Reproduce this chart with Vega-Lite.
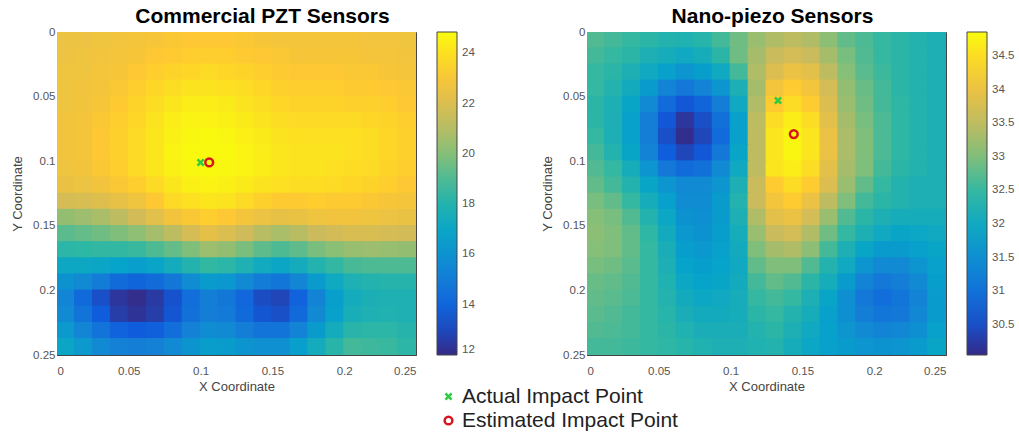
{
"$schema":"https://vega.github.io/schema/vega-lite/v6.json",
"autosize":{"type":"pad"},
"padding":{"left":11,"top":5,"right":0,"bottom":0},
"background":"white",
"config":{
"font":"Liberation Sans",
"view":{"stroke":"#444","strokeWidth":1},
"axis":{"labelFont":"Liberation Sans","labelFontSize":11.5,"labelColor":"#555","titleFont":"Liberation Sans","titleFontSize":13,"titleFontWeight":"normal","titleColor":"#444","domain":false,"tickColor":"#444","tickSize":-4,"grid":false},
"axisX":{"labelPadding":14},
"axisY":{"labelPadding":6},
"title":{"font":"Liberation Sans","fontSize":21,"fontWeight":"bold","color":"#000","offset":0}
},
"datasets":{
"pzt":[
{"x":0.006,"y":0.006,"v":22.6},{"x":0.019,"y":0.006,"v":22.6},{"x":0.031,"y":0.006,"v":22.7},{"x":0.044,"y":0.006,"v":22.8},{"x":0.056,"y":0.006,"v":22.9},{"x":0.069,"y":0.006,"v":23.0},{"x":0.081,"y":0.006,"v":23.1},{"x":0.094,"y":0.006,"v":23.2},{"x":0.106,"y":0.006,"v":23.2},{"x":0.119,"y":0.006,"v":23.2},{"x":0.131,"y":0.006,"v":23.1},{"x":0.144,"y":0.006,"v":23.0},{"x":0.156,"y":0.006,"v":22.9},{"x":0.169,"y":0.006,"v":22.9},{"x":0.181,"y":0.006,"v":22.9},{"x":0.194,"y":0.006,"v":22.9},{"x":0.206,"y":0.006,"v":22.9},{"x":0.219,"y":0.006,"v":22.8},{"x":0.231,"y":0.006,"v":22.8},{"x":0.244,"y":0.006,"v":22.7},
{"x":0.006,"y":0.019,"v":22.6},{"x":0.019,"y":0.019,"v":22.7},{"x":0.031,"y":0.019,"v":22.8},{"x":0.044,"y":0.019,"v":22.9},{"x":0.056,"y":0.019,"v":23.0},{"x":0.069,"y":0.019,"v":23.2},{"x":0.081,"y":0.019,"v":23.3},{"x":0.094,"y":0.019,"v":23.4},{"x":0.106,"y":0.019,"v":23.4},{"x":0.119,"y":0.019,"v":23.4},{"x":0.131,"y":0.019,"v":23.3},{"x":0.144,"y":0.019,"v":23.2},{"x":0.156,"y":0.019,"v":23.1},{"x":0.169,"y":0.019,"v":23.0},{"x":0.181,"y":0.019,"v":23.0},{"x":0.194,"y":0.019,"v":23.0},{"x":0.206,"y":0.019,"v":23.0},{"x":0.219,"y":0.019,"v":22.9},{"x":0.231,"y":0.019,"v":22.9},{"x":0.244,"y":0.019,"v":22.8},
{"x":0.006,"y":0.031,"v":22.7},{"x":0.019,"y":0.031,"v":22.7},{"x":0.031,"y":0.031,"v":22.9},{"x":0.044,"y":0.031,"v":23.0},{"x":0.056,"y":0.031,"v":23.2},{"x":0.069,"y":0.031,"v":23.4},{"x":0.081,"y":0.031,"v":23.6},{"x":0.094,"y":0.031,"v":23.7},{"x":0.106,"y":0.031,"v":23.8},{"x":0.119,"y":0.031,"v":23.7},{"x":0.131,"y":0.031,"v":23.6},{"x":0.144,"y":0.031,"v":23.4},{"x":0.156,"y":0.031,"v":23.3},{"x":0.169,"y":0.031,"v":23.2},{"x":0.181,"y":0.031,"v":23.2},{"x":0.194,"y":0.031,"v":23.2},{"x":0.206,"y":0.031,"v":23.1},{"x":0.219,"y":0.031,"v":23.1},{"x":0.231,"y":0.031,"v":23.0},{"x":0.244,"y":0.031,"v":22.9},
{"x":0.006,"y":0.044,"v":22.7},{"x":0.019,"y":0.044,"v":22.8},{"x":0.031,"y":0.044,"v":22.9},{"x":0.044,"y":0.044,"v":23.1},{"x":0.056,"y":0.044,"v":23.4},{"x":0.069,"y":0.044,"v":23.7},{"x":0.081,"y":0.044,"v":23.9},{"x":0.094,"y":0.044,"v":24.1},{"x":0.106,"y":0.044,"v":24.1},{"x":0.119,"y":0.044,"v":24.0},{"x":0.131,"y":0.044,"v":23.9},{"x":0.144,"y":0.044,"v":23.7},{"x":0.156,"y":0.044,"v":23.5},{"x":0.169,"y":0.044,"v":23.4},{"x":0.181,"y":0.044,"v":23.4},{"x":0.194,"y":0.044,"v":23.4},{"x":0.206,"y":0.044,"v":23.3},{"x":0.219,"y":0.044,"v":23.3},{"x":0.231,"y":0.044,"v":23.2},{"x":0.244,"y":0.044,"v":23.1},
{"x":0.006,"y":0.056,"v":22.7},{"x":0.019,"y":0.056,"v":22.8},{"x":0.031,"y":0.056,"v":23.0},{"x":0.044,"y":0.056,"v":23.3},{"x":0.056,"y":0.056,"v":23.6},{"x":0.069,"y":0.056,"v":23.9},{"x":0.081,"y":0.056,"v":24.2},{"x":0.094,"y":0.056,"v":24.4},{"x":0.106,"y":0.056,"v":24.4},{"x":0.119,"y":0.056,"v":24.3},{"x":0.131,"y":0.056,"v":24.1},{"x":0.144,"y":0.056,"v":23.9},{"x":0.156,"y":0.056,"v":23.7},{"x":0.169,"y":0.056,"v":23.6},{"x":0.181,"y":0.056,"v":23.6},{"x":0.194,"y":0.056,"v":23.6},{"x":0.206,"y":0.056,"v":23.5},{"x":0.219,"y":0.056,"v":23.5},{"x":0.231,"y":0.056,"v":23.4},{"x":0.244,"y":0.056,"v":23.2},
{"x":0.006,"y":0.069,"v":22.8},{"x":0.019,"y":0.069,"v":22.9},{"x":0.031,"y":0.069,"v":23.1},{"x":0.044,"y":0.069,"v":23.4},{"x":0.056,"y":0.069,"v":23.7},{"x":0.069,"y":0.069,"v":24.1},{"x":0.081,"y":0.069,"v":24.4},{"x":0.094,"y":0.069,"v":24.6},{"x":0.106,"y":0.069,"v":24.6},{"x":0.119,"y":0.069,"v":24.5},{"x":0.131,"y":0.069,"v":24.3},{"x":0.144,"y":0.069,"v":24.1},{"x":0.156,"y":0.069,"v":23.9},{"x":0.169,"y":0.069,"v":23.8},{"x":0.181,"y":0.069,"v":23.8},{"x":0.194,"y":0.069,"v":23.8},{"x":0.206,"y":0.069,"v":23.8},{"x":0.219,"y":0.069,"v":23.7},{"x":0.231,"y":0.069,"v":23.6},{"x":0.244,"y":0.069,"v":23.4},
{"x":0.006,"y":0.081,"v":22.8},{"x":0.019,"y":0.081,"v":22.9},{"x":0.031,"y":0.081,"v":23.2},{"x":0.044,"y":0.081,"v":23.5},{"x":0.056,"y":0.081,"v":23.8},{"x":0.069,"y":0.081,"v":24.2},{"x":0.081,"y":0.081,"v":24.5},{"x":0.094,"y":0.081,"v":24.7},{"x":0.106,"y":0.081,"v":24.8},{"x":0.119,"y":0.081,"v":24.7},{"x":0.131,"y":0.081,"v":24.5},{"x":0.144,"y":0.081,"v":24.3},{"x":0.156,"y":0.081,"v":24.1},{"x":0.169,"y":0.081,"v":24.0},{"x":0.181,"y":0.081,"v":24.0},{"x":0.194,"y":0.081,"v":24.0},{"x":0.206,"y":0.081,"v":24.0},{"x":0.219,"y":0.081,"v":23.9},{"x":0.231,"y":0.081,"v":23.7},{"x":0.244,"y":0.081,"v":23.5},
{"x":0.006,"y":0.094,"v":22.8},{"x":0.019,"y":0.094,"v":22.9},{"x":0.031,"y":0.094,"v":23.2},{"x":0.044,"y":0.094,"v":23.5},{"x":0.056,"y":0.094,"v":23.8},{"x":0.069,"y":0.094,"v":24.2},{"x":0.081,"y":0.094,"v":24.6},{"x":0.094,"y":0.094,"v":24.8},{"x":0.106,"y":0.094,"v":24.8},{"x":0.119,"y":0.094,"v":24.8},{"x":0.131,"y":0.094,"v":24.6},{"x":0.144,"y":0.094,"v":24.4},{"x":0.156,"y":0.094,"v":24.2},{"x":0.169,"y":0.094,"v":24.1},{"x":0.181,"y":0.094,"v":24.1},{"x":0.194,"y":0.094,"v":24.1},{"x":0.206,"y":0.094,"v":24.0},{"x":0.219,"y":0.094,"v":23.9},{"x":0.231,"y":0.094,"v":23.7},{"x":0.244,"y":0.094,"v":23.5},
{"x":0.006,"y":0.106,"v":22.7},{"x":0.019,"y":0.106,"v":22.8},{"x":0.031,"y":0.106,"v":23.1},{"x":0.044,"y":0.106,"v":23.4},{"x":0.056,"y":0.106,"v":23.8},{"x":0.069,"y":0.106,"v":24.2},{"x":0.081,"y":0.106,"v":24.5},{"x":0.094,"y":0.106,"v":24.7},{"x":0.106,"y":0.106,"v":24.8},{"x":0.119,"y":0.106,"v":24.7},{"x":0.131,"y":0.106,"v":24.6},{"x":0.144,"y":0.106,"v":24.4},{"x":0.156,"y":0.106,"v":24.2},{"x":0.169,"y":0.106,"v":24.1},{"x":0.181,"y":0.106,"v":24.1},{"x":0.194,"y":0.106,"v":24.0},{"x":0.206,"y":0.106,"v":23.9},{"x":0.219,"y":0.106,"v":23.8},{"x":0.231,"y":0.106,"v":23.6},{"x":0.244,"y":0.106,"v":23.4},
{"x":0.006,"y":0.119,"v":22.5},{"x":0.019,"y":0.119,"v":22.6},{"x":0.031,"y":0.119,"v":22.8},{"x":0.044,"y":0.119,"v":23.1},{"x":0.056,"y":0.119,"v":23.4},{"x":0.069,"y":0.119,"v":23.8},{"x":0.081,"y":0.119,"v":24.2},{"x":0.094,"y":0.119,"v":24.5},{"x":0.106,"y":0.119,"v":24.6},{"x":0.119,"y":0.119,"v":24.5},{"x":0.131,"y":0.119,"v":24.3},{"x":0.144,"y":0.119,"v":24.1},{"x":0.156,"y":0.119,"v":24.0},{"x":0.169,"y":0.119,"v":23.9},{"x":0.181,"y":0.119,"v":23.9},{"x":0.194,"y":0.119,"v":23.8},{"x":0.206,"y":0.119,"v":23.7},{"x":0.219,"y":0.119,"v":23.6},{"x":0.231,"y":0.119,"v":23.4},{"x":0.244,"y":0.119,"v":23.2},
{"x":0.006,"y":0.131,"v":21.8},{"x":0.019,"y":0.131,"v":21.9},{"x":0.031,"y":0.131,"v":22.1},{"x":0.044,"y":0.131,"v":22.4},{"x":0.056,"y":0.131,"v":22.7},{"x":0.069,"y":0.131,"v":23.2},{"x":0.081,"y":0.131,"v":23.8},{"x":0.094,"y":0.131,"v":24.0},{"x":0.106,"y":0.131,"v":24.2},{"x":0.119,"y":0.131,"v":24.1},{"x":0.131,"y":0.131,"v":23.8},{"x":0.144,"y":0.131,"v":23.5},{"x":0.156,"y":0.131,"v":23.3},{"x":0.169,"y":0.131,"v":23.3},{"x":0.181,"y":0.131,"v":23.4},{"x":0.194,"y":0.131,"v":23.3},{"x":0.206,"y":0.131,"v":23.3},{"x":0.219,"y":0.131,"v":23.1},{"x":0.231,"y":0.131,"v":23.0},{"x":0.244,"y":0.131,"v":22.9},
{"x":0.006,"y":0.144,"v":20.3},{"x":0.019,"y":0.144,"v":20.5},{"x":0.031,"y":0.144,"v":20.8},{"x":0.044,"y":0.144,"v":21.2},{"x":0.056,"y":0.144,"v":21.7},{"x":0.069,"y":0.144,"v":22.2},{"x":0.081,"y":0.144,"v":22.8},{"x":0.094,"y":0.144,"v":23.1},{"x":0.106,"y":0.144,"v":23.4},{"x":0.119,"y":0.144,"v":23.2},{"x":0.131,"y":0.144,"v":22.9},{"x":0.144,"y":0.144,"v":22.6},{"x":0.156,"y":0.144,"v":22.4},{"x":0.169,"y":0.144,"v":22.5},{"x":0.181,"y":0.144,"v":22.7},{"x":0.194,"y":0.144,"v":22.8},{"x":0.206,"y":0.144,"v":22.8},{"x":0.219,"y":0.144,"v":22.7},{"x":0.231,"y":0.144,"v":22.6},{"x":0.244,"y":0.144,"v":22.5},
{"x":0.006,"y":0.156,"v":19.2},{"x":0.019,"y":0.156,"v":19.4},{"x":0.031,"y":0.156,"v":19.6},{"x":0.044,"y":0.156,"v":19.9},{"x":0.056,"y":0.156,"v":20.2},{"x":0.069,"y":0.156,"v":20.7},{"x":0.081,"y":0.156,"v":21.2},{"x":0.094,"y":0.156,"v":21.8},{"x":0.106,"y":0.156,"v":22.3},{"x":0.119,"y":0.156,"v":22.0},{"x":0.131,"y":0.156,"v":21.6},{"x":0.144,"y":0.156,"v":21.1},{"x":0.156,"y":0.156,"v":20.8},{"x":0.169,"y":0.156,"v":21.1},{"x":0.181,"y":0.156,"v":21.5},{"x":0.194,"y":0.156,"v":21.7},{"x":0.206,"y":0.156,"v":21.9},{"x":0.219,"y":0.156,"v":21.9},{"x":0.231,"y":0.156,"v":21.8},{"x":0.244,"y":0.156,"v":21.7},
{"x":0.006,"y":0.169,"v":18.3},{"x":0.019,"y":0.169,"v":18.4},{"x":0.031,"y":0.169,"v":18.5},{"x":0.044,"y":0.169,"v":18.5},{"x":0.056,"y":0.169,"v":18.6},{"x":0.069,"y":0.169,"v":19.0},{"x":0.081,"y":0.169,"v":19.4},{"x":0.094,"y":0.169,"v":19.9},{"x":0.106,"y":0.169,"v":20.5},{"x":0.119,"y":0.169,"v":20.3},{"x":0.131,"y":0.169,"v":19.8},{"x":0.144,"y":0.169,"v":19.3},{"x":0.156,"y":0.169,"v":19.0},{"x":0.169,"y":0.169,"v":19.3},{"x":0.181,"y":0.169,"v":19.8},{"x":0.194,"y":0.169,"v":20.1},{"x":0.206,"y":0.169,"v":20.4},{"x":0.219,"y":0.169,"v":20.5},{"x":0.231,"y":0.169,"v":20.4},{"x":0.244,"y":0.169,"v":20.3},
{"x":0.006,"y":0.181,"v":17.1},{"x":0.019,"y":0.181,"v":17.1},{"x":0.031,"y":0.181,"v":17.0},{"x":0.044,"y":0.181,"v":16.8},{"x":0.056,"y":0.181,"v":16.6},{"x":0.069,"y":0.181,"v":16.9},{"x":0.081,"y":0.181,"v":17.4},{"x":0.094,"y":0.181,"v":18.0},{"x":0.106,"y":0.181,"v":18.5},{"x":0.119,"y":0.181,"v":18.3},{"x":0.131,"y":0.181,"v":17.8},{"x":0.144,"y":0.181,"v":17.3},{"x":0.156,"y":0.181,"v":17.0},{"x":0.169,"y":0.181,"v":17.4},{"x":0.181,"y":0.181,"v":18.0},{"x":0.194,"y":0.181,"v":18.5},{"x":0.206,"y":0.181,"v":18.9},{"x":0.219,"y":0.181,"v":19.0},{"x":0.231,"y":0.181,"v":19.0},{"x":0.244,"y":0.181,"v":19.0},
{"x":0.006,"y":0.194,"v":16.0},{"x":0.019,"y":0.194,"v":15.6},{"x":0.031,"y":0.194,"v":15.0},{"x":0.044,"y":0.194,"v":14.3},{"x":0.056,"y":0.194,"v":14.0},{"x":0.069,"y":0.194,"v":14.3},{"x":0.081,"y":0.194,"v":14.8},{"x":0.094,"y":0.194,"v":15.7},{"x":0.106,"y":0.194,"v":16.4},{"x":0.119,"y":0.194,"v":16.2},{"x":0.131,"y":0.194,"v":15.6},{"x":0.144,"y":0.194,"v":15.0},{"x":0.156,"y":0.194,"v":14.7},{"x":0.169,"y":0.194,"v":15.4},{"x":0.181,"y":0.194,"v":16.4},{"x":0.194,"y":0.194,"v":17.2},{"x":0.206,"y":0.194,"v":17.8},{"x":0.219,"y":0.194,"v":18.0},{"x":0.231,"y":0.194,"v":18.1},{"x":0.244,"y":0.194,"v":18.1},
{"x":0.006,"y":0.206,"v":15.4},{"x":0.019,"y":0.206,"v":14.2},{"x":0.031,"y":0.206,"v":13.2},{"x":0.044,"y":0.206,"v":12.4},{"x":0.056,"y":0.206,"v":12.1},{"x":0.069,"y":0.206,"v":12.5},{"x":0.081,"y":0.206,"v":13.3},{"x":0.094,"y":0.206,"v":14.4},{"x":0.106,"y":0.206,"v":15.1},{"x":0.119,"y":0.206,"v":14.8},{"x":0.131,"y":0.206,"v":14.1},{"x":0.144,"y":0.206,"v":13.1},{"x":0.156,"y":0.206,"v":12.9},{"x":0.169,"y":0.206,"v":13.9},{"x":0.181,"y":0.206,"v":15.3},{"x":0.194,"y":0.206,"v":16.6},{"x":0.206,"y":0.206,"v":17.4},{"x":0.219,"y":0.206,"v":17.7},{"x":0.231,"y":0.206,"v":17.8},{"x":0.244,"y":0.206,"v":17.8},
{"x":0.006,"y":0.219,"v":15.6},{"x":0.019,"y":0.219,"v":14.6},{"x":0.031,"y":0.219,"v":13.6},{"x":0.044,"y":0.219,"v":12.6},{"x":0.056,"y":0.219,"v":12.3},{"x":0.069,"y":0.219,"v":12.6},{"x":0.081,"y":0.219,"v":13.4},{"x":0.094,"y":0.219,"v":14.5},{"x":0.106,"y":0.219,"v":15.1},{"x":0.119,"y":0.219,"v":14.9},{"x":0.131,"y":0.219,"v":14.2},{"x":0.144,"y":0.219,"v":13.4},{"x":0.156,"y":0.219,"v":13.2},{"x":0.169,"y":0.219,"v":14.2},{"x":0.181,"y":0.219,"v":15.6},{"x":0.194,"y":0.219,"v":16.7},{"x":0.206,"y":0.219,"v":17.6},{"x":0.219,"y":0.219,"v":17.8},{"x":0.231,"y":0.219,"v":17.9},{"x":0.244,"y":0.219,"v":17.8},
{"x":0.006,"y":0.231,"v":16.3},{"x":0.019,"y":0.231,"v":15.4},{"x":0.031,"y":0.231,"v":14.6},{"x":0.044,"y":0.231,"v":13.9},{"x":0.056,"y":0.231,"v":13.6},{"x":0.069,"y":0.231,"v":13.8},{"x":0.081,"y":0.231,"v":14.4},{"x":0.094,"y":0.231,"v":15.2},{"x":0.106,"y":0.231,"v":15.7},{"x":0.119,"y":0.231,"v":15.6},{"x":0.131,"y":0.231,"v":15.1},{"x":0.144,"y":0.231,"v":14.6},{"x":0.156,"y":0.231,"v":14.6},{"x":0.169,"y":0.231,"v":15.3},{"x":0.181,"y":0.231,"v":16.4},{"x":0.194,"y":0.231,"v":17.4},{"x":0.206,"y":0.231,"v":18.2},{"x":0.219,"y":0.231,"v":18.3},{"x":0.231,"y":0.231,"v":18.3},{"x":0.244,"y":0.231,"v":18.1},
{"x":0.006,"y":0.244,"v":17.0},{"x":0.019,"y":0.244,"v":16.3},{"x":0.031,"y":0.244,"v":15.6},{"x":0.044,"y":0.244,"v":15.2},{"x":0.056,"y":0.244,"v":15.1},{"x":0.069,"y":0.244,"v":15.2},{"x":0.081,"y":0.244,"v":15.6},{"x":0.094,"y":0.244,"v":16.1},{"x":0.106,"y":0.244,"v":16.5},{"x":0.119,"y":0.244,"v":16.4},{"x":0.131,"y":0.244,"v":16.1},{"x":0.144,"y":0.244,"v":15.9},{"x":0.156,"y":0.244,"v":15.9},{"x":0.169,"y":0.244,"v":16.6},{"x":0.181,"y":0.244,"v":17.4},{"x":0.194,"y":0.244,"v":18.2},{"x":0.206,"y":0.244,"v":18.8},{"x":0.219,"y":0.244,"v":18.7},{"x":0.231,"y":0.244,"v":18.6},{"x":0.244,"y":0.244,"v":18.3}
],
"nano":[
{"x":0.006,"y":0.006,"v":32.7},{"x":0.019,"y":0.006,"v":32.6},{"x":0.031,"y":0.006,"v":32.5},{"x":0.044,"y":0.006,"v":32.4},{"x":0.056,"y":0.006,"v":32.3},{"x":0.069,"y":0.006,"v":32.25},{"x":0.081,"y":0.006,"v":32.35},{"x":0.094,"y":0.006,"v":32.6},{"x":0.106,"y":0.006,"v":32.9},{"x":0.119,"y":0.006,"v":33.2},{"x":0.131,"y":0.006,"v":33.4},{"x":0.144,"y":0.006,"v":33.5},{"x":0.156,"y":0.006,"v":33.4},{"x":0.169,"y":0.006,"v":33.1},{"x":0.181,"y":0.006,"v":32.8},{"x":0.194,"y":0.006,"v":32.65},{"x":0.206,"y":0.006,"v":32.5},{"x":0.219,"y":0.006,"v":32.4},{"x":0.231,"y":0.006,"v":32.3},{"x":0.244,"y":0.006,"v":32.2},
{"x":0.006,"y":0.019,"v":32.6},{"x":0.019,"y":0.019,"v":32.5},{"x":0.031,"y":0.019,"v":32.4},{"x":0.044,"y":0.019,"v":32.2},{"x":0.056,"y":0.019,"v":32.1},{"x":0.069,"y":0.019,"v":32.0},{"x":0.081,"y":0.019,"v":32.1},{"x":0.094,"y":0.019,"v":32.4},{"x":0.106,"y":0.019,"v":32.9},{"x":0.119,"y":0.019,"v":33.3},{"x":0.131,"y":0.019,"v":33.6},{"x":0.144,"y":0.019,"v":33.7},{"x":0.156,"y":0.019,"v":33.6},{"x":0.169,"y":0.019,"v":33.3},{"x":0.181,"y":0.019,"v":32.95},{"x":0.194,"y":0.019,"v":32.7},{"x":0.206,"y":0.019,"v":32.5},{"x":0.219,"y":0.019,"v":32.4},{"x":0.231,"y":0.019,"v":32.3},{"x":0.244,"y":0.019,"v":32.2},
{"x":0.006,"y":0.031,"v":32.5},{"x":0.019,"y":0.031,"v":32.4},{"x":0.031,"y":0.031,"v":32.2},{"x":0.044,"y":0.031,"v":32.0},{"x":0.056,"y":0.031,"v":31.8},{"x":0.069,"y":0.031,"v":31.6},{"x":0.081,"y":0.031,"v":31.75},{"x":0.094,"y":0.031,"v":32.0},{"x":0.106,"y":0.031,"v":32.6},{"x":0.119,"y":0.031,"v":33.4},{"x":0.131,"y":0.031,"v":33.8},{"x":0.144,"y":0.031,"v":34.0},{"x":0.156,"y":0.031,"v":33.9},{"x":0.169,"y":0.031,"v":33.5},{"x":0.181,"y":0.031,"v":33.05},{"x":0.194,"y":0.031,"v":32.75},{"x":0.206,"y":0.031,"v":32.55},{"x":0.219,"y":0.031,"v":32.4},{"x":0.231,"y":0.031,"v":32.3},{"x":0.244,"y":0.031,"v":32.2},
{"x":0.006,"y":0.044,"v":32.5},{"x":0.019,"y":0.044,"v":32.3},{"x":0.031,"y":0.044,"v":32.05},{"x":0.044,"y":0.044,"v":31.7},{"x":0.056,"y":0.044,"v":31.3},{"x":0.069,"y":0.044,"v":31.1},{"x":0.081,"y":0.044,"v":31.3},{"x":0.094,"y":0.044,"v":31.6},{"x":0.106,"y":0.044,"v":32.2},{"x":0.119,"y":0.044,"v":33.3},{"x":0.131,"y":0.044,"v":34.1},{"x":0.144,"y":0.044,"v":34.3},{"x":0.156,"y":0.044,"v":34.1},{"x":0.169,"y":0.044,"v":33.7},{"x":0.181,"y":0.044,"v":33.15},{"x":0.194,"y":0.044,"v":32.85},{"x":0.206,"y":0.044,"v":32.6},{"x":0.219,"y":0.044,"v":32.4},{"x":0.231,"y":0.044,"v":32.3},{"x":0.244,"y":0.044,"v":32.2},
{"x":0.006,"y":0.056,"v":32.4},{"x":0.019,"y":0.056,"v":32.2},{"x":0.031,"y":0.056,"v":31.9},{"x":0.044,"y":0.056,"v":31.4},{"x":0.056,"y":0.056,"v":30.9},{"x":0.069,"y":0.056,"v":30.6},{"x":0.081,"y":0.056,"v":30.8},{"x":0.094,"y":0.056,"v":31.2},{"x":0.106,"y":0.056,"v":32.0},{"x":0.119,"y":0.056,"v":33.4},{"x":0.131,"y":0.056,"v":34.3},{"x":0.144,"y":0.056,"v":34.5},{"x":0.156,"y":0.056,"v":34.3},{"x":0.169,"y":0.056,"v":33.8},{"x":0.181,"y":0.056,"v":33.2},{"x":0.194,"y":0.056,"v":32.9},{"x":0.206,"y":0.056,"v":32.6},{"x":0.219,"y":0.056,"v":32.45},{"x":0.231,"y":0.056,"v":32.3},{"x":0.244,"y":0.056,"v":32.2},
{"x":0.006,"y":0.069,"v":32.4},{"x":0.019,"y":0.069,"v":32.2},{"x":0.031,"y":0.069,"v":31.8},{"x":0.044,"y":0.069,"v":31.2},{"x":0.056,"y":0.069,"v":30.6},{"x":0.069,"y":0.069,"v":30.2},{"x":0.081,"y":0.069,"v":30.5},{"x":0.094,"y":0.069,"v":31.0},{"x":0.106,"y":0.069,"v":31.8},{"x":0.119,"y":0.069,"v":33.5},{"x":0.131,"y":0.069,"v":34.5},{"x":0.144,"y":0.069,"v":34.7},{"x":0.156,"y":0.069,"v":34.5},{"x":0.169,"y":0.069,"v":33.9},{"x":0.181,"y":0.069,"v":33.3},{"x":0.194,"y":0.069,"v":32.95},{"x":0.206,"y":0.069,"v":32.65},{"x":0.219,"y":0.069,"v":32.45},{"x":0.231,"y":0.069,"v":32.3},{"x":0.244,"y":0.069,"v":32.2},
{"x":0.006,"y":0.081,"v":32.5},{"x":0.019,"y":0.081,"v":32.2},{"x":0.031,"y":0.081,"v":31.8},{"x":0.044,"y":0.081,"v":31.2},{"x":0.056,"y":0.081,"v":30.5},{"x":0.069,"y":0.081,"v":30.1},{"x":0.081,"y":0.081,"v":30.4},{"x":0.094,"y":0.081,"v":30.9},{"x":0.106,"y":0.081,"v":31.8},{"x":0.119,"y":0.081,"v":33.5},{"x":0.131,"y":0.081,"v":34.6},{"x":0.144,"y":0.081,"v":34.8},{"x":0.156,"y":0.081,"v":34.6},{"x":0.169,"y":0.081,"v":34.0},{"x":0.181,"y":0.081,"v":33.35},{"x":0.194,"y":0.081,"v":33.0},{"x":0.206,"y":0.081,"v":32.65},{"x":0.219,"y":0.081,"v":32.45},{"x":0.231,"y":0.081,"v":32.3},{"x":0.244,"y":0.081,"v":32.2},
{"x":0.006,"y":0.094,"v":32.6},{"x":0.019,"y":0.094,"v":32.3},{"x":0.031,"y":0.094,"v":31.9},{"x":0.044,"y":0.094,"v":31.3},{"x":0.056,"y":0.094,"v":30.7},{"x":0.069,"y":0.094,"v":30.4},{"x":0.081,"y":0.094,"v":30.6},{"x":0.094,"y":0.094,"v":31.1},{"x":0.106,"y":0.094,"v":31.9},{"x":0.119,"y":0.094,"v":33.5},{"x":0.131,"y":0.094,"v":34.6},{"x":0.144,"y":0.094,"v":34.8},{"x":0.156,"y":0.094,"v":34.6},{"x":0.169,"y":0.094,"v":34.0},{"x":0.181,"y":0.094,"v":33.35},{"x":0.194,"y":0.094,"v":33.0},{"x":0.206,"y":0.094,"v":32.65},{"x":0.219,"y":0.094,"v":32.45},{"x":0.231,"y":0.094,"v":32.3},{"x":0.244,"y":0.094,"v":32.2},
{"x":0.006,"y":0.106,"v":32.7},{"x":0.019,"y":0.106,"v":32.5},{"x":0.031,"y":0.106,"v":32.1},{"x":0.044,"y":0.106,"v":31.6},{"x":0.056,"y":0.106,"v":31.1},{"x":0.069,"y":0.106,"v":30.9},{"x":0.081,"y":0.106,"v":31.0},{"x":0.094,"y":0.106,"v":31.4},{"x":0.106,"y":0.106,"v":32.0},{"x":0.119,"y":0.106,"v":33.5},{"x":0.131,"y":0.106,"v":34.6},{"x":0.144,"y":0.106,"v":34.7},{"x":0.156,"y":0.106,"v":34.5},{"x":0.169,"y":0.106,"v":33.9},{"x":0.181,"y":0.106,"v":33.3},{"x":0.194,"y":0.106,"v":33.0},{"x":0.206,"y":0.106,"v":32.6},{"x":0.219,"y":0.106,"v":32.4},{"x":0.231,"y":0.106,"v":32.3},{"x":0.244,"y":0.106,"v":32.2},
{"x":0.006,"y":0.119,"v":32.8},{"x":0.019,"y":0.119,"v":32.6},{"x":0.031,"y":0.119,"v":32.3},{"x":0.044,"y":0.119,"v":31.9},{"x":0.056,"y":0.119,"v":31.6},{"x":0.069,"y":0.119,"v":31.4},{"x":0.081,"y":0.119,"v":31.4},{"x":0.094,"y":0.119,"v":31.6},{"x":0.106,"y":0.119,"v":32.2},{"x":0.119,"y":0.119,"v":33.6},{"x":0.131,"y":0.119,"v":34.3},{"x":0.144,"y":0.119,"v":34.5},{"x":0.156,"y":0.119,"v":34.3},{"x":0.169,"y":0.119,"v":33.8},{"x":0.181,"y":0.119,"v":33.2},{"x":0.194,"y":0.119,"v":32.8},{"x":0.206,"y":0.119,"v":32.5},{"x":0.219,"y":0.119,"v":32.3},{"x":0.231,"y":0.119,"v":32.2},{"x":0.244,"y":0.119,"v":32.2},
{"x":0.006,"y":0.131,"v":32.95},{"x":0.019,"y":0.131,"v":32.8},{"x":0.031,"y":0.131,"v":32.5},{"x":0.044,"y":0.131,"v":32.1},{"x":0.056,"y":0.131,"v":31.8},{"x":0.069,"y":0.131,"v":31.45},{"x":0.081,"y":0.131,"v":31.45},{"x":0.094,"y":0.131,"v":31.7},{"x":0.106,"y":0.131,"v":32.3},{"x":0.119,"y":0.131,"v":33.6},{"x":0.131,"y":0.131,"v":34.1},{"x":0.144,"y":0.131,"v":34.3},{"x":0.156,"y":0.131,"v":34.0},{"x":0.169,"y":0.131,"v":33.5},{"x":0.181,"y":0.131,"v":33.0},{"x":0.194,"y":0.131,"v":32.6},{"x":0.206,"y":0.131,"v":32.4},{"x":0.219,"y":0.131,"v":32.3},{"x":0.231,"y":0.131,"v":32.2},{"x":0.244,"y":0.131,"v":32.2},
{"x":0.006,"y":0.144,"v":33.05},{"x":0.019,"y":0.144,"v":32.95},{"x":0.031,"y":0.144,"v":32.7},{"x":0.044,"y":0.144,"v":32.3},{"x":0.056,"y":0.144,"v":31.95},{"x":0.069,"y":0.144,"v":31.55},{"x":0.081,"y":0.144,"v":31.5},{"x":0.094,"y":0.144,"v":31.7},{"x":0.106,"y":0.144,"v":32.2},{"x":0.119,"y":0.144,"v":33.4},{"x":0.131,"y":0.144,"v":33.9},{"x":0.144,"y":0.144,"v":34.0},{"x":0.156,"y":0.144,"v":33.7},{"x":0.169,"y":0.144,"v":33.2},{"x":0.181,"y":0.144,"v":32.7},{"x":0.194,"y":0.144,"v":32.4},{"x":0.206,"y":0.144,"v":32.2},{"x":0.219,"y":0.144,"v":32.1},{"x":0.231,"y":0.144,"v":32.1},{"x":0.244,"y":0.144,"v":32.1},
{"x":0.006,"y":0.156,"v":33.1},{"x":0.019,"y":0.156,"v":33.0},{"x":0.031,"y":0.156,"v":32.8},{"x":0.044,"y":0.156,"v":32.45},{"x":0.056,"y":0.156,"v":32.05},{"x":0.069,"y":0.156,"v":31.65},{"x":0.081,"y":0.156,"v":31.55},{"x":0.094,"y":0.156,"v":31.75},{"x":0.106,"y":0.156,"v":32.1},{"x":0.119,"y":0.156,"v":33.2},{"x":0.131,"y":0.156,"v":33.6},{"x":0.144,"y":0.156,"v":33.7},{"x":0.156,"y":0.156,"v":33.4},{"x":0.169,"y":0.156,"v":32.9},{"x":0.181,"y":0.156,"v":32.5},{"x":0.194,"y":0.156,"v":32.2},{"x":0.206,"y":0.156,"v":32.0},{"x":0.219,"y":0.156,"v":31.9},{"x":0.231,"y":0.156,"v":31.95},{"x":0.244,"y":0.156,"v":32.0},
{"x":0.006,"y":0.169,"v":33.05},{"x":0.019,"y":0.169,"v":33.0},{"x":0.031,"y":0.169,"v":32.8},{"x":0.044,"y":0.169,"v":32.5},{"x":0.056,"y":0.169,"v":32.15},{"x":0.069,"y":0.169,"v":31.75},{"x":0.081,"y":0.169,"v":31.65},{"x":0.094,"y":0.169,"v":31.8},{"x":0.106,"y":0.169,"v":32.05},{"x":0.119,"y":0.169,"v":33.0},{"x":0.131,"y":0.169,"v":33.3},{"x":0.144,"y":0.169,"v":33.4},{"x":0.156,"y":0.169,"v":33.1},{"x":0.169,"y":0.169,"v":32.6},{"x":0.181,"y":0.169,"v":32.2},{"x":0.194,"y":0.169,"v":31.9},{"x":0.206,"y":0.169,"v":31.7},{"x":0.219,"y":0.169,"v":31.7},{"x":0.231,"y":0.169,"v":31.8},{"x":0.244,"y":0.169,"v":31.9},
{"x":0.006,"y":0.181,"v":32.95},{"x":0.019,"y":0.181,"v":32.9},{"x":0.031,"y":0.181,"v":32.75},{"x":0.044,"y":0.181,"v":32.5},{"x":0.056,"y":0.181,"v":32.2},{"x":0.069,"y":0.181,"v":31.85},{"x":0.081,"y":0.181,"v":31.75},{"x":0.094,"y":0.181,"v":31.85},{"x":0.106,"y":0.181,"v":32.0},{"x":0.119,"y":0.181,"v":32.8},{"x":0.131,"y":0.181,"v":33.0},{"x":0.144,"y":0.181,"v":33.0},{"x":0.156,"y":0.181,"v":32.7},{"x":0.169,"y":0.181,"v":32.3},{"x":0.181,"y":0.181,"v":32.0},{"x":0.194,"y":0.181,"v":31.6},{"x":0.206,"y":0.181,"v":31.4},{"x":0.219,"y":0.181,"v":31.4},{"x":0.231,"y":0.181,"v":31.6},{"x":0.244,"y":0.181,"v":31.8},
{"x":0.006,"y":0.194,"v":32.85},{"x":0.019,"y":0.194,"v":32.8},{"x":0.031,"y":0.194,"v":32.7},{"x":0.044,"y":0.194,"v":32.5},{"x":0.056,"y":0.194,"v":32.25},{"x":0.069,"y":0.194,"v":31.95},{"x":0.081,"y":0.194,"v":31.85},{"x":0.094,"y":0.194,"v":31.9},{"x":0.106,"y":0.194,"v":32.05},{"x":0.119,"y":0.194,"v":32.6},{"x":0.131,"y":0.194,"v":32.8},{"x":0.144,"y":0.194,"v":32.7},{"x":0.156,"y":0.194,"v":32.4},{"x":0.169,"y":0.194,"v":32.1},{"x":0.181,"y":0.194,"v":31.7},{"x":0.194,"y":0.194,"v":31.3},{"x":0.206,"y":0.194,"v":31.1},{"x":0.219,"y":0.194,"v":31.2},{"x":0.231,"y":0.194,"v":31.4},{"x":0.244,"y":0.194,"v":31.75},
{"x":0.006,"y":0.206,"v":32.8},{"x":0.019,"y":0.206,"v":32.75},{"x":0.031,"y":0.206,"v":32.65},{"x":0.044,"y":0.206,"v":32.5},{"x":0.056,"y":0.206,"v":32.3},{"x":0.069,"y":0.206,"v":32.05},{"x":0.081,"y":0.206,"v":31.95},{"x":0.094,"y":0.206,"v":32.0},{"x":0.106,"y":0.206,"v":32.1},{"x":0.119,"y":0.206,"v":32.5},{"x":0.131,"y":0.206,"v":32.6},{"x":0.144,"y":0.206,"v":32.5},{"x":0.156,"y":0.206,"v":32.2},{"x":0.169,"y":0.206,"v":31.9},{"x":0.181,"y":0.206,"v":31.5},{"x":0.194,"y":0.206,"v":31.1},{"x":0.206,"y":0.206,"v":30.95},{"x":0.219,"y":0.206,"v":31.05},{"x":0.231,"y":0.206,"v":31.3},{"x":0.244,"y":0.206,"v":31.7},
{"x":0.006,"y":0.219,"v":32.75},{"x":0.019,"y":0.219,"v":32.7},{"x":0.031,"y":0.219,"v":32.6},{"x":0.044,"y":0.219,"v":32.5},{"x":0.056,"y":0.219,"v":32.35},{"x":0.069,"y":0.219,"v":32.15},{"x":0.081,"y":0.219,"v":32.05},{"x":0.094,"y":0.219,"v":32.05},{"x":0.106,"y":0.219,"v":32.1},{"x":0.119,"y":0.219,"v":32.4},{"x":0.131,"y":0.219,"v":32.5},{"x":0.144,"y":0.219,"v":32.3},{"x":0.156,"y":0.219,"v":32.1},{"x":0.169,"y":0.219,"v":31.8},{"x":0.181,"y":0.219,"v":31.5},{"x":0.194,"y":0.219,"v":31.2},{"x":0.206,"y":0.219,"v":31.05},{"x":0.219,"y":0.219,"v":31.1},{"x":0.231,"y":0.219,"v":31.35},{"x":0.244,"y":0.219,"v":31.7},
{"x":0.006,"y":0.231,"v":32.7},{"x":0.019,"y":0.231,"v":32.65},{"x":0.031,"y":0.231,"v":32.6},{"x":0.044,"y":0.231,"v":32.5},{"x":0.056,"y":0.231,"v":32.4},{"x":0.069,"y":0.231,"v":32.25},{"x":0.081,"y":0.231,"v":32.15},{"x":0.094,"y":0.231,"v":32.15},{"x":0.106,"y":0.231,"v":32.15},{"x":0.119,"y":0.231,"v":32.3},{"x":0.131,"y":0.231,"v":32.4},{"x":0.144,"y":0.231,"v":32.2},{"x":0.156,"y":0.231,"v":32.0},{"x":0.169,"y":0.231,"v":31.8},{"x":0.181,"y":0.231,"v":31.6},{"x":0.194,"y":0.231,"v":31.4},{"x":0.206,"y":0.231,"v":31.3},{"x":0.219,"y":0.231,"v":31.35},{"x":0.231,"y":0.231,"v":31.5},{"x":0.244,"y":0.231,"v":31.8},
{"x":0.006,"y":0.244,"v":32.6},{"x":0.019,"y":0.244,"v":32.6},{"x":0.031,"y":0.244,"v":32.55},{"x":0.044,"y":0.244,"v":32.5},{"x":0.056,"y":0.244,"v":32.45},{"x":0.069,"y":0.244,"v":32.35},{"x":0.081,"y":0.244,"v":32.25},{"x":0.094,"y":0.244,"v":32.2},{"x":0.106,"y":0.244,"v":32.2},{"x":0.119,"y":0.244,"v":32.25},{"x":0.131,"y":0.244,"v":32.3},{"x":0.144,"y":0.244,"v":32.1},{"x":0.156,"y":0.244,"v":31.95},{"x":0.169,"y":0.244,"v":31.8},{"x":0.181,"y":0.244,"v":31.7},{"x":0.194,"y":0.244,"v":31.6},{"x":0.206,"y":0.244,"v":31.55},{"x":0.219,"y":0.244,"v":31.6},{"x":0.231,"y":0.244,"v":31.7},{"x":0.244,"y":0.244,"v":31.9}
]
},
"hconcat":[
{
"title":{"text":"Commercial  PZT Sensors","dx":26,"dy":5},
"width":359,"height":323,
"layer":[
{"data":{"name":"pzt"},"mark":{"type":"rect","width":{"band":1.1},"height":{"band":1.1},"clip":true},
"encoding":{
"x":{"field":"x","type":"ordinal","axis":null,"scale":{"paddingInner":0,"paddingOuter":0}},
"y":{"field":"y","type":"ordinal","axis":null,"scale":{"paddingInner":0,"paddingOuter":0}},
"color":{"field":"v","type":"quantitative","scale":{"domain":[12,24.85],"range":["#352a87","#0f5cdd","#1481d6","#06a4ca","#2eb7a4","#87bf77","#d1bb59","#fec832","#f9fb0e"],"interpolate":"rgb"},
"legend":{"title":null,"values":[12,14,16,18,20,22,24],"labelExpr":"'' + datum.value","gradientLength":323,"gradientThickness":20,"offset":21,"labelFontSize":11.5,"labelColor":"#555","labelFont":"Liberation Sans","gradientStrokeColor":"#444","gradientStrokeWidth":1,"labelOffset":5}}
}},
{"data":{"values":[{"x":0.1,"y":0.101,"type":"Actual Impact Point"},{"x":0.106,"y":0.101,"type":"Estimated Impact Point"}]},
"mark":{"type":"point","filled":false,"strokeWidth":2.5,"size":60,"opacity":1},
"encoding":{
"x":{"field":"x","type":"quantitative","scale":{"domain":[0,0.25],"nice":false,"zero":false},"axis":{"values":[0,0.05,0.1,0.15,0.2,0.25],"format":"~g","title":"X Coordinate"}},
"y":{"field":"y","type":"quantitative","scale":{"domain":[0,0.25],"nice":false,"zero":false,"reverse":true},"axis":{"values":[0,0.05,0.1,0.15,0.2,0.25],"format":"~g","title":"Y Coordinate","titlePadding":8}},
"shape":{"field":"type","type":"nominal","scale":{"domain":["Actual Impact Point","Estimated Impact Point"],"range":["M-0.8,-0.8L0.8,0.8M0.8,-0.8L-0.8,0.8","circle"]},
"legend":{"title":null,"orient":"none","legendX":381,"legendY":354,"labelFontSize":21,"labelFont":"Liberation Sans","labelColor":"#222","labelLimit":400,"symbolSize":60,"symbolStrokeWidth":2.5,"rowPadding":2,"labelOffset":3}},
"stroke":{"field":"type","type":"nominal","scale":{"domain":["Actual Impact Point","Estimated Impact Point"],"range":["#2ecc40","#d9141c"]},
"legend":{"title":null,"orient":"none","legendX":381,"legendY":354,"labelFontSize":21,"labelFont":"Liberation Sans","labelColor":"#222","labelLimit":400,"symbolSize":60,"symbolStrokeWidth":2.5,"rowPadding":2,"labelOffset":3}}
}}
],
"resolve":{"scale":{"x":"independent","y":"independent"}}
},
{
"title":{"text":"Nano-piezo  Sensors","dx":6,"dy":5},
"width":359,"height":323,
"layer":[
{"data":{"name":"nano"},"mark":{"type":"rect","width":{"band":1.1},"height":{"band":1.1},"clip":true},
"encoding":{
"x":{"field":"x","type":"ordinal","axis":null,"scale":{"paddingInner":0,"paddingOuter":0}},
"y":{"field":"y","type":"ordinal","axis":null,"scale":{"paddingInner":0,"paddingOuter":0}},
"color":{"field":"v","type":"quantitative","scale":{"domain":[30.05,34.86],"range":["#352a87","#0f5cdd","#1481d6","#06a4ca","#2eb7a4","#87bf77","#d1bb59","#fec832","#f9fb0e"],"interpolate":"rgb"},
"legend":{"title":null,"values":[30.5,31,31.5,32,32.5,33,33.5,34,34.5],"labelExpr":"'' + datum.value","gradientLength":323,"gradientThickness":20,"offset":21,"labelFontSize":11.5,"labelColor":"#555","labelFont":"Liberation Sans","gradientStrokeColor":"#444","gradientStrokeWidth":1,"labelOffset":5}}
}},
{"data":{"values":[{"x":0.133,"y":0.053,"type":"Actual Impact Point"},{"x":0.144,"y":0.079,"type":"Estimated Impact Point"}]},
"mark":{"type":"point","filled":false,"strokeWidth":2.5,"size":60,"opacity":1},
"encoding":{
"x":{"field":"x","type":"quantitative","scale":{"domain":[0,0.25],"nice":false,"zero":false},"axis":{"values":[0,0.05,0.1,0.15,0.2,0.25],"format":"~g","title":"X Coordinate"}},
"y":{"field":"y","type":"quantitative","scale":{"domain":[0,0.25],"nice":false,"zero":false,"reverse":true},"axis":{"values":[0,0.05,0.1,0.15,0.2,0.25],"format":"~g","title":"Y Coordinate","titlePadding":8}},
"shape":{"field":"type","type":"nominal","scale":{"domain":["Actual Impact Point","Estimated Impact Point"],"range":["M-0.8,-0.8L0.8,0.8M0.8,-0.8L-0.8,0.8","circle"]},
"legend":{"title":null,"orient":"none","legendX":381,"legendY":354,"labelFontSize":21,"labelFont":"Liberation Sans","labelColor":"#222","labelLimit":400,"symbolSize":60,"symbolStrokeWidth":2.5,"rowPadding":2,"labelOffset":3}},
"stroke":{"field":"type","type":"nominal","scale":{"domain":["Actual Impact Point","Estimated Impact Point"],"range":["#2ecc40","#d9141c"]},
"legend":{"title":null,"orient":"none","legendX":381,"legendY":354,"labelFontSize":21,"labelFont":"Liberation Sans","labelColor":"#222","labelLimit":400,"symbolSize":60,"symbolStrokeWidth":2.5,"rowPadding":2,"labelOffset":3}}
}}
],
"resolve":{"scale":{"x":"independent","y":"independent"}}
}
],
"spacing":171,
"bounds":"flush",
"resolve":{"scale":{"color":"independent"},"legend":{"color":"independent"}}
}
